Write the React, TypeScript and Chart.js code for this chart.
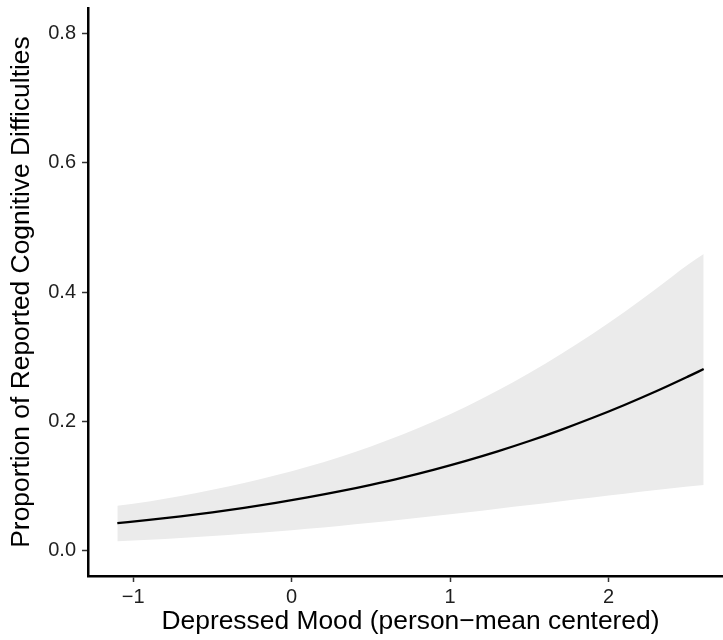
import React, { useEffect, useRef } from "react";
import { Chart, registerables } from "chart.js";

Chart.register(...registerables);

// Depressed mood (person-mean centered)
const xValues = [-1.1, -0.9, -0.7, -0.5, -0.3, -0.1, 0.1, 0.3, 0.5, 0.7, 0.9, 1.1, 1.3, 1.5, 1.7, 1.9, 2.1, 2.3, 2.5, 2.6];
// Predicted proportion
const fitValues = [0.0419, 0.0469, 0.0525, 0.0587, 0.0656, 0.0732, 0.0817, 0.091, 0.1013, 0.1125, 0.1249, 0.1384, 0.1531, 0.1691, 0.1865, 0.2051, 0.225, 0.2462, 0.2689, 0.2806];
// Upper confidence bound
const upperValues = [0.069, 0.0756, 0.084, 0.0935, 0.104, 0.1159, 0.1292, 0.1441, 0.1608, 0.1793, 0.1997, 0.2224, 0.2473, 0.2744, 0.3039, 0.3354, 0.3691, 0.405, 0.4422, 0.459];
// Lower confidence bound
const lowerValues = [0.0138, 0.016, 0.0187, 0.0218, 0.0253, 0.029, 0.0332, 0.0376, 0.0424, 0.0475, 0.0529, 0.0584, 0.0642, 0.07, 0.0759, 0.0817, 0.0875, 0.0931, 0.0985, 0.1011];

const xTicks = [-1, 0, 1, 2];
const yTicks = [0, 0.2, 0.4, 0.6, 0.8];
const xTitle = "Depressed Mood (person\u2212mean centered)";
const yTitle = "Proportion of Reported Cognitive Difficulties";

const W = 741;
const H = 640;
const FONT = "'Liberation Sans', Arial, Helvetica, sans-serif";

export default function App() {
  const ref = useRef<HTMLCanvasElement | null>(null);

  useEffect(() => {
    if (!ref.current) return;
    const pts = (ys: number[]) => xValues.map((x, i) => ({ x, y: ys[i] }));
    const chart = new Chart(ref.current, {
      type: "line",
      data: {
        datasets: [
          {
            label: "fit",
            data: pts(fitValues),
            borderColor: "#000000",
            borderWidth: 2.3,
            pointRadius: 0,
            fill: false,
            cubicInterpolationMode: "monotone",
            order: 0,
          },
          {
            label: "upper",
            data: pts(upperValues),
            borderColor: "rgba(0,0,0,0)",
            borderWidth: 0,
            backgroundColor: "#ebebeb",
            pointRadius: 0,
            fill: "+1",
            cubicInterpolationMode: "monotone",
            order: 1,
          },
          {
            label: "lower",
            data: pts(lowerValues),
            borderColor: "rgba(0,0,0,0)",
            borderWidth: 0,
            pointRadius: 0,
            fill: false,
            cubicInterpolationMode: "monotone",
            order: 2,
          },
        ],
      },
      options: {
        responsive: false,
        maintainAspectRatio: false,
        animation: false,
        layout: { padding: { left: 0, top: 8, right: 8, bottom: 0 } },
        plugins: { legend: { display: false }, tooltip: { enabled: false } },
        scales: {
          x: {
            type: "linear",
            min: -1.285,
            max: 2.785,
            afterBuildTicks: (s: any) => {
              s.ticks = xTicks.map((v) => ({ value: v }));
            },
            afterFit: (s: any) => {
              s.height = 64;
              s.paddingLeft = 0;
              s.paddingRight = 0;
            },
            grid: {
              display: true,
              drawOnChartArea: false,
              drawTicks: true,
              tickLength: 6,
              tickWidth: 1.5,
              tickColor: "#333333",
            },
            border: { display: true, color: "#000000", width: 2.5 },
            ticks: {
              color: "#1f1f1f",
              font: { family: FONT, size: 20 },
              padding: 3,
              maxRotation: 0,
              autoSkip: false,
              callback: (v: any) => (Number(v) < 0 ? "\u2212" + Math.abs(Number(v)) : String(v)),
            },
            title: {
              display: true,
              text: xTitle,
              color: "#000000",
              font: { family: FONT, size: 26.4 },
              padding: { top: 0, bottom: 2 },
            },
          },
          y: {
            type: "linear",
            min: -0.04,
            max: 0.84,
            afterBuildTicks: (s: any) => {
              s.ticks = yTicks.map((v) => ({ value: v }));
            },
            afterFit: (s: any) => {
              s.width = 88;
              s.paddingTop = 0;
              s.paddingBottom = 0;
            },
            grid: {
              display: true,
              drawOnChartArea: false,
              drawTicks: true,
              tickLength: 6,
              tickWidth: 1.5,
              tickColor: "#333333",
            },
            border: { display: true, color: "#000000", width: 2.5 },
            ticks: {
              color: "#1f1f1f",
              font: { family: FONT, size: 20 },
              padding: 6,
              autoSkip: false,
              callback: (v: any) => Number(v).toFixed(1),
            },
            title: {
              display: true,
              text: yTitle,
              color: "#000000",
              font: { family: FONT, size: 26.4 },
              padding: { top: 6, bottom: 0 },
            },
          },
        },
      },
    });
    return () => chart.destroy();
  }, []);

  return (
    <div
      style={{
        position: "fixed",
        left: 0,
        top: 0,
        width: 723,
        height: 640,
        overflow: "hidden",
        background: "#ffffff",
      }}
    >
      <canvas ref={ref} width={W} height={H} style={{ display: "block" }} />
    </div>
  );
}
